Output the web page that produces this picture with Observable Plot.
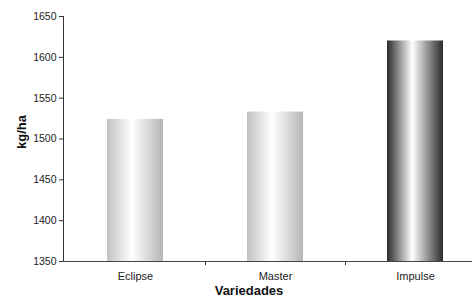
<!DOCTYPE html>
<html>
<head>
<meta charset="utf-8">
<script src="https://cdn.jsdelivr.net/npm/d3@7"></script>
<script src="https://cdn.jsdelivr.net/npm/@observablehq/plot@0.6"></script>
<style>
  html, body { margin: 0; padding: 0; background: #fff; overflow: hidden; }
  svg { display: block; }
</style>
</head>
<body>
<div id="chart"></div>
<script>
const categories = ["Eclipse", "Master", "Impulse"];
const values = [1524, 1533, 1620];
const yTicks = [1350, 1400, 1450, 1500, 1550, 1600, 1650];
const xTitle = "Variedades";
const yTitle = "kg/ha";

const data = categories.map((c, i) => ({ variedad: c, kg: values[i] }));
const lightData = data.filter(d => d.variedad !== "Impulse");
const darkData = data.filter(d => d.variedad === "Impulse");
const yMin = yTicks[0], yMax = yTicks[yTicks.length - 1];

const chart = Plot.plot({
  width: 472,
  height: 298,
  marginLeft: 63,
  marginRight: 0,
  marginTop: 16,
  marginBottom: 37,
  style: { fontFamily: "'Liberation Sans', Arial, sans-serif", background: "#fff", overflow: "hidden" },
  x: { domain: categories, range: [65, 485], paddingInner: 0.6, paddingOuter: 0.3, label: null },
  y: { domain: [yMin, yMax], range: [261, 16], label: null },
  marks: [
    Plot.barY(lightData, { x: "variedad", y1: yMin, y2: "kg", fill: "url(#gLight)" }),
    Plot.barY(darkData, { x: "variedad", y1: yMin, y2: "kg", fill: "url(#gDark)" }),
    Plot.axisY({ ticks: yTicks, tickSize: 4, tickPadding: 3, tickFormat: d => String(d), fontSize: 10.5, stroke: "#333", fill: "#222", label: null }),
    Plot.ruleY([yMin], { stroke: "#444", strokeWidth: 1 }),
    Plot.ruleX(["Master", "Impulse"], { x: d => d, y1: yMin, y2: yMin, insetBottom: -4, dx: -70, stroke: "#333" }),
    Plot.axisX({ tickSize: 0, tickPadding: 11, fontSize: 11, fill: "#222", label: null }),
    Plot.text([xTitle], { frameAnchor: "bottom", dx: -19, dy: 33, fontSize: 13, fontWeight: "bold", fill: "#111" }),
    Plot.text([yTitle], { frameAnchor: "left", dx: -42, dy: 10, rotate: -90, fontSize: 13, fontWeight: "bold", fill: "#111" })
  ]
});

document.getElementById("chart").appendChild(chart);

const svg = d3.select(chart);
// y axis line, positioned through the plot's own y scale
const ys = chart.scale("y");
svg.append("line")
  .attr("x1", 63.5).attr("x2", 63.5)
  .attr("y1", ys.apply(yMax)).attr("y2", ys.apply(yMin))
  .attr("stroke", "#333");

// gradients for cylinder-like bar shading
const defs = svg.insert("defs", ":first-child");
const light = defs.append("linearGradient").attr("id", "gLight").attr("x1", 0).attr("x2", 1).attr("y1", 0).attr("y2", 0);
[[0, "#c2c2c2"], [0.45, "#ffffff"], [1, "#b6b6b6"]].forEach(([o, c]) => light.append("stop").attr("offset", o).attr("stop-color", c));
const dark = defs.append("linearGradient").attr("id", "gDark").attr("x1", 0).attr("x2", 1).attr("y1", 0).attr("y2", 0);
[[0, "#2b2b2b"], [0.45, "#ffffff"], [1, "#2b2b2b"]].forEach(([o, c]) => dark.append("stop").attr("offset", o).attr("stop-color", c));
</script>
</body>
</html>
